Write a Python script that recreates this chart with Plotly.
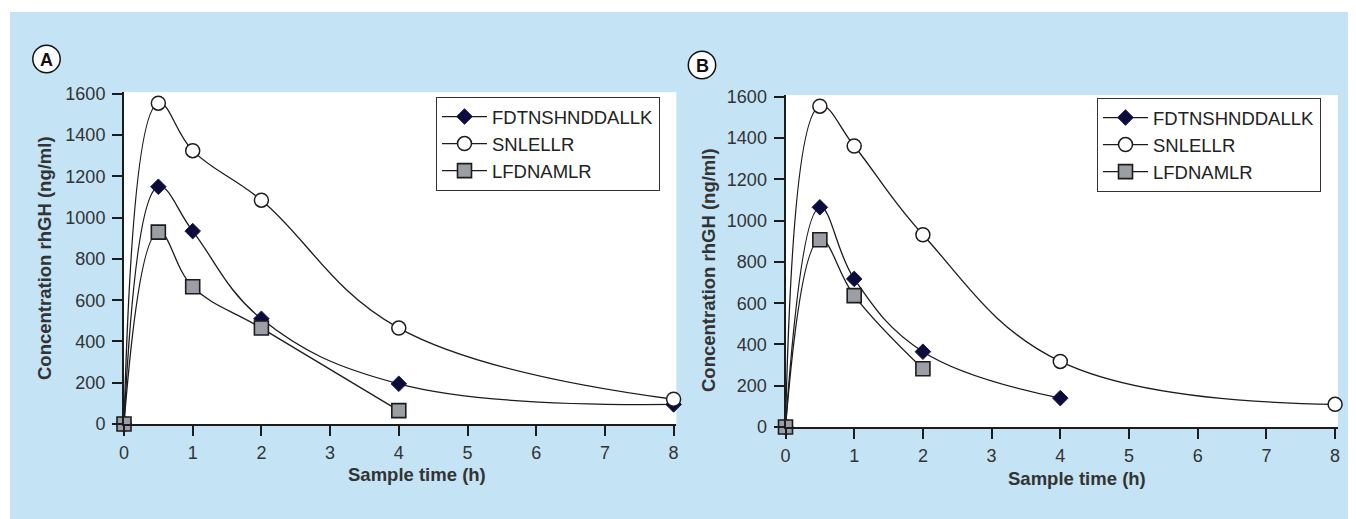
import plotly.graph_objects as go

W, H = 1356, 519
OFF = 8  # the page body margin shifts the figure by 8px

# ---- data ----
times = [0, 0.5, 1, 2, 4, 8]
series_names = ["FDTNSHNDDALLK", "SNLELLR", "LFDNAMLR"]

# Panel A
a_fdtn = [0, 1150, 935, 510, 195, 95]
a_snle = [0, 1555, 1325, 1085, 465, 120]
a_lfdn_t = [0, 0.5, 1, 2, 4]
a_lfdn = [0, 930, 665, 465, 65]

# Panel B
b_fdtn_t = [0, 0.5, 1, 2, 4]
b_fdtn = [0, 1065, 718, 365, 140]
b_snle = [0, 1555, 1362, 932, 318, 110]
b_lfdn_t = [0, 0.5, 1, 2]
b_lfdn = [0, 908, 637, 282]

x_ticks = [0, 1, 2, 3, 4, 5, 6, 7, 8]
y_ticks = [0, 200, 400, 600, 800, 1000, 1200, 1400, 1600]

BLUE = "#c4e4f6"
LINE = "#1c1c1c"
FONT = "Liberation Sans, Arial, sans-serif"


def px(x):
    return (x - OFF) / W


def py(y):
    return 1 - (y - OFF) / H


styles = {
    "FDTNSHNDDALLK": dict(symbol="diamond", size=12, color="#0c0c3c",
                          line=dict(color="#1a1a55", width=1)),
    "SNLELLR": dict(symbol="circle", size=14, color="white",
                    line=dict(color="#1c1c1c", width=1.5)),
    "LFDNAMLR": dict(symbol="square", size=14, color="#9c9ea6",
                     line=dict(color="#1c1c1c", width=1.6)),
}

fig = go.Figure()


def add(xs, ys, name, xa, ya, legend):
    fig.add_trace(go.Scatter(
        x=xs, y=ys, name=name, mode="lines+markers",
        line=dict(color=LINE, width=1.3, shape="spline", smoothing=1.15),
        marker=styles[name], xaxis=xa, yaxis=ya, legend=legend,
        cliponaxis=False,
    ))


add(times, a_fdtn, "FDTNSHNDDALLK", "x", "y", "legend")
add(times, a_snle, "SNLELLR", "x", "y", "legend")
add(a_lfdn_t, a_lfdn, "LFDNAMLR", "x", "y", "legend")

add(b_fdtn_t, b_fdtn, "FDTNSHNDDALLK", "x2", "y2", "legend2")
add(times, b_snle, "SNLELLR", "x2", "y2", "legend2")
add(b_lfdn_t, b_lfdn, "LFDNAMLR", "x2", "y2", "legend2")

tickfont = dict(family=FONT, size=18, color="#333333")

X_PER = 68.7     # px per hour
Y_PER = 0.2063   # px per ng/ml


def xaxis(x0, anchor):
    x1 = x0 + 8.04 * X_PER
    return dict(domain=[px(x0), px(x1)], range=[0, 8.04], anchor=anchor,
                tickvals=x_ticks, ticktext=[str(t) for t in x_ticks],
                showline=True, linecolor=LINE, linewidth=2,
                ticks="outside", ticklen=10, tickwidth=2, tickcolor=LINE,
                showgrid=False, zeroline=False, tickfont=tickfont,
                ticklabelstandoff=1, fixedrange=True, automargin=False)


def yaxis(y0, y1, anchor):
    top = (y0 - y1) / Y_PER
    return dict(domain=[py(y0), py(y1)], range=[0, top], anchor=anchor,
                tickvals=y_ticks, ticktext=[str(t) for t in y_ticks],
                showline=True, linecolor=LINE, linewidth=2,
                ticks="outside", ticklen=10, tickwidth=2, tickcolor=LINE,
                showgrid=False, zeroline=False, tickfont=tickfont,
                ticklabelstandoff=3, fixedrange=True, automargin=False)


legend_style = dict(bgcolor="white", bordercolor="#333333", borderwidth=1,
                    font=dict(family=FONT, size=18.5, color="#222222"),
                    xanchor="left", yanchor="top", itemclick=False,
                    itemwidth=45)

fig.update_layout(
    width=W, height=H,
    margin=dict(l=0, r=0, t=0, b=0, autoexpand=False),
    paper_bgcolor=BLUE, plot_bgcolor="white",
    xaxis=xaxis(124, "y"),
    yaxis=yaxis(424, 92, "x"),
    xaxis2=xaxis(785.5, "y2"),
    yaxis2=yaxis(427, 95, "x2"),
    legend=dict(x=px(436), y=py(97), **legend_style),
    legend2=dict(x=px(1097), y=py(98), **legend_style),
    showlegend=True,
)

# white border strips (top and left)
fig.add_shape(type="rect", xref="paper", yref="paper",
              x0=px(0), x1=px(W + 20), y0=py(12), y1=py(0),
              fillcolor="white", line_width=0, layer="below")
fig.add_shape(type="rect", xref="paper", yref="paper",
              x0=px(0), x1=px(10), y0=py(H + 20), y1=py(0),
              fillcolor="white", line_width=0, layer="below")

# panel labels (circled letters)
for label, cx, cy in [("A", 46.5, 59), ("B", 702, 65)]:
    r = 13.7
    fig.add_shape(type="circle", xref="paper", yref="paper",
                  x0=px(cx - r), x1=px(cx + r), y0=py(cy + r), y1=py(cy - r),
                  fillcolor="white", line=dict(color="#111111", width=1.5))
    fig.add_annotation(text=f"<b>{label}</b>", xref="paper", yref="paper",
                       x=px(cx), y=py(cy + 0.5), showarrow=False,
                       font=dict(family=FONT, size=18, color="#111111"),
                       xanchor="center", yanchor="middle")

for (tx, ty) in [(416.5, 474), (1077, 478)]:
    fig.add_annotation(text="<b>Sample time (h)</b>", xref="paper", yref="paper",
                       x=px(tx), y=py(ty), showarrow=False,
                       font=dict(family=FONT, size=18.5, color="#333333"),
                       xanchor="center", yanchor="middle")
for (tx, ty) in [(45, 258), (708, 270)]:
    fig.add_annotation(text="<b>Concentration rhGH (ng/ml)</b>", xref="paper",
                       yref="paper", x=px(tx), y=py(ty), showarrow=False,
                       font=dict(family=FONT, size=18.5, color="#333333"),
                       textangle=-90, xanchor="center", yanchor="middle")

fig.write_html("out.html", config={"displayModeBar": False})
